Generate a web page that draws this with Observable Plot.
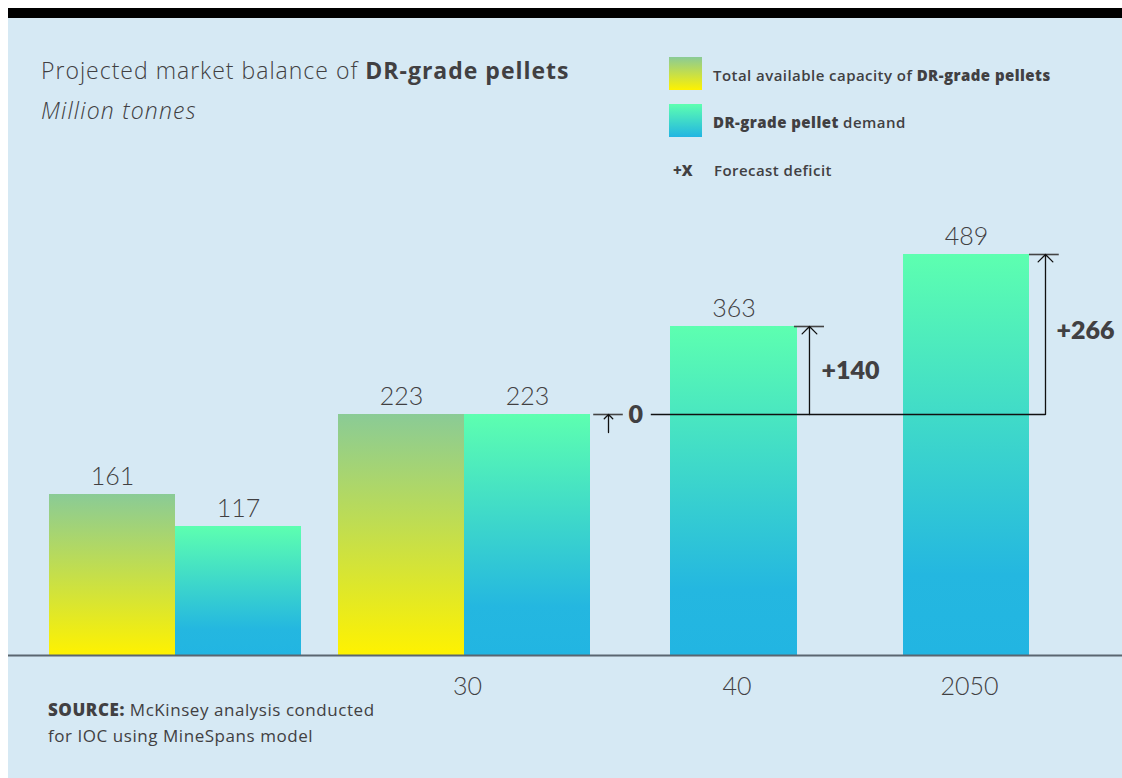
<!DOCTYPE html>
<html><head><meta charset="utf-8">
<script src="https://cdn.jsdelivr.net/npm/d3@7"></script>
<script src="https://cdn.jsdelivr.net/npm/@observablehq/plot@0.6"></script>
<style>
body{margin:0;background:#fff;font-family:"Open Sans",Lato,sans-serif;}
#wrap{position:relative;width:1122px;height:778px;overflow:hidden;}
#topbar{position:absolute;left:8px;top:8px;width:1114px;height:10px;background:#000;}
#panel{position:absolute;left:8px;top:18px;width:1114px;height:760px;background:#d6e9f4;}
#chart{position:absolute;left:0;top:0;}
.t{position:absolute;color:#414042;white-space:nowrap;}
.sw{position:absolute;width:33px;height:33px;}
</style></head><body>
<div id="wrap">
  <div id="topbar"></div>
  <div id="panel"></div>
  <div id="chart"></div>
  <div class="t" style="left:41px;top:56px;font-size:23px;line-height:28px;font-weight:300;letter-spacing:1px">Projected market balance of <b style="font-weight:700">DR-grade pellets</b></div>
  <div class="t" style="left:41px;top:96px;font-size:23px;line-height:28px;font-weight:300;font-style:italic;letter-spacing:1.2px">Million tonnes</div>
  <div class="sw" style="left:669px;top:57px;background:linear-gradient(#8acb96,#fff200)"></div>
  <div class="sw" style="left:669px;top:104px;background:linear-gradient(#5dffb0,#22b5e2)"></div>
  <div class="t" style="left:713px;top:65px;font-size:15px;line-height:20px;font-weight:600;letter-spacing:0.45px">Total available capacity of <b style="font-weight:800">DR-grade pellets</b></div>
  <div class="t" style="left:713px;top:112px;font-size:15px;line-height:20px;font-weight:600;letter-spacing:0.45px"><b style="font-weight:800">DR-grade pellet</b> demand</div>
  <div class="t" style="left:673px;top:160px;font-size:15px;line-height:20px;font-weight:800">+X</div>
  <div class="t" style="left:714px;top:160px;font-size:15px;line-height:20px;font-weight:600;letter-spacing:0.45px">Forecast deficit</div>
  <div class="t" style="left:48px;top:697px;font-size:17px;line-height:26px;letter-spacing:0.55px"><b style="font-weight:800">SOURCE:</b> McKinsey analysis conducted<br>for IOC using MineSpans model</div>
</div>
<script>
// ---- data ----
const groupLabels = ["", "30", "40", "2050"];
const capacity = [161, 223, null, null];
const demand = [117, 223, 363, 489];
const deficit = [null, 0, 140, 266];

// ---- build table: each bar occupies one slot, one empty slot between groups ----
const bars = [];
const centers = [];
let s = 0;
groupLabels.forEach((g, i) => {
  const start = s;
  if (capacity[i] != null) { bars.push({slot: s, value: capacity[i], kind: "cap"}); s++; }
  bars.push({slot: s, value: demand[i], kind: "dem", group: i}); s++;
  centers.push({x: (start + s) / 2, label: g});
  s++;
});
const supplyRef = capacity[1];
const demBars = bars.filter(d => d.kind === "dem");
const edge = i => demBars.find(d => d.group === i).slot + 1;

// annotation geometry (slot units offsets from bar edge)
const annX = {1: {arrow: 0.225, t1: 0.04, t2: 0.41, lab: 0.475},
              2: {arrow: 0.113, t1: -0.024, t2: 0.255, lab: 0.226},
              3: {arrow: 0.172, t1: 0, t2: 0.32, lab: 0.29}};
const ann = deficit.map((d, i) => d == null ? null : {
  i, d,
  top: demand[i],
  ax: edge(i) + annX[i].arrow,
  t1: edge(i) + annX[i].t1,
  t2: edge(i) + annX[i].t2,
  lx: edge(i) + annX[i].lab,
  label: d === 0 ? "0" : "+" + d
}).filter(Boolean);

const txt = "#414042";
const plot = Plot.plot({
  width: 1122, height: 778,
  marginLeft: 8, marginRight: 0, marginTop: 18, marginBottom: 0,
  style: {background: "none", fontFamily: "Lato, 'Open Sans', sans-serif", overflow: "visible"},
  x: {type: "linear", domain: [0, 2, 3, 5, 6, 7, 8, 9, 10], range: [49, 301, 338, 590, 670, 797, 903, 1029, 1122], axis: null},
  y: {type: "linear", domain: [0, 117, 161, 223, 363, 489], range: [655, 526, 494, 414, 326, 254], axis: null},
  marks: [
    Plot.rect(bars.filter(d => d.kind === "cap"), {x1: "slot", x2: d => d.slot + 1, y1: 0, y2: "value", fill: "url(#gradCap)"}),
    Plot.rect(demBars, {x1: "slot", x2: d => d.slot + 1, y1: 0, y2: "value", fill: "url(#gradDem)"}),
    Plot.ruleY([0], {stroke: "#5b6670", strokeWidth: 2}),
    Plot.text(bars, {x: d => d.slot + 0.5, y: "value", text: d => String(d.value), dy: -18, fontSize: 25, fontWeight: 300, fill: txt}),
    Plot.text(centers, {x: "x", y: 0, text: "label", dy: 31, dx: 3, fontSize: 25, fontWeight: 300, fill: txt}),
    // zero reference line
    Plot.ruleY([supplyRef], {x1: ann[0].lx + 0.285, x2: ann[ann.length - 1].ax, stroke: "#111", strokeWidth: 1.3}),
    Plot.ruleY(ann, {y: d => d.d === 0 ? supplyRef : d.top, x1: "t1", x2: "t2", stroke: "#444", strokeWidth: 1.6}),
    Plot.arrow(ann, {x1: "ax", x2: "ax", y1: d => d.d === 0 ? supplyRef - 14 : supplyRef, y2: d => d.d === 0 ? supplyRef : d.top,
      headAngle: 90, headLength: 12, stroke: "#111", strokeWidth: 1.3}),
    Plot.text(ann, {x: "lx", y: d => d.d === 0 ? supplyRef : (supplyRef + d.top) / 2, text: "label", textAnchor: "start",
      fontSize: 25, fontWeight: 800, fill: txt})
  ]
});
const svg = d3.select(plot);
const defs = svg.insert("defs", ":first-child");
const g1 = defs.append("linearGradient").attr("id", "gradCap").attr("x1", 0).attr("y1", 0).attr("x2", 0).attr("y2", 1);
g1.append("stop").attr("offset", 0).attr("stop-color", "#8acb96");
g1.append("stop").attr("offset", 1).attr("stop-color", "#fff200");
const g2 = defs.append("linearGradient").attr("id", "gradDem").attr("x1", 0).attr("y1", 0).attr("x2", 0).attr("y2", 1);
g2.append("stop").attr("offset", 0).attr("stop-color", "#5dffb0");
g2.append("stop").attr("offset", 0.8).attr("stop-color", "#24b7e0");
g2.append("stop").attr("offset", 1).attr("stop-color", "#22b5e2");
document.getElementById("chart").appendChild(plot);
</script>
</body></html>
